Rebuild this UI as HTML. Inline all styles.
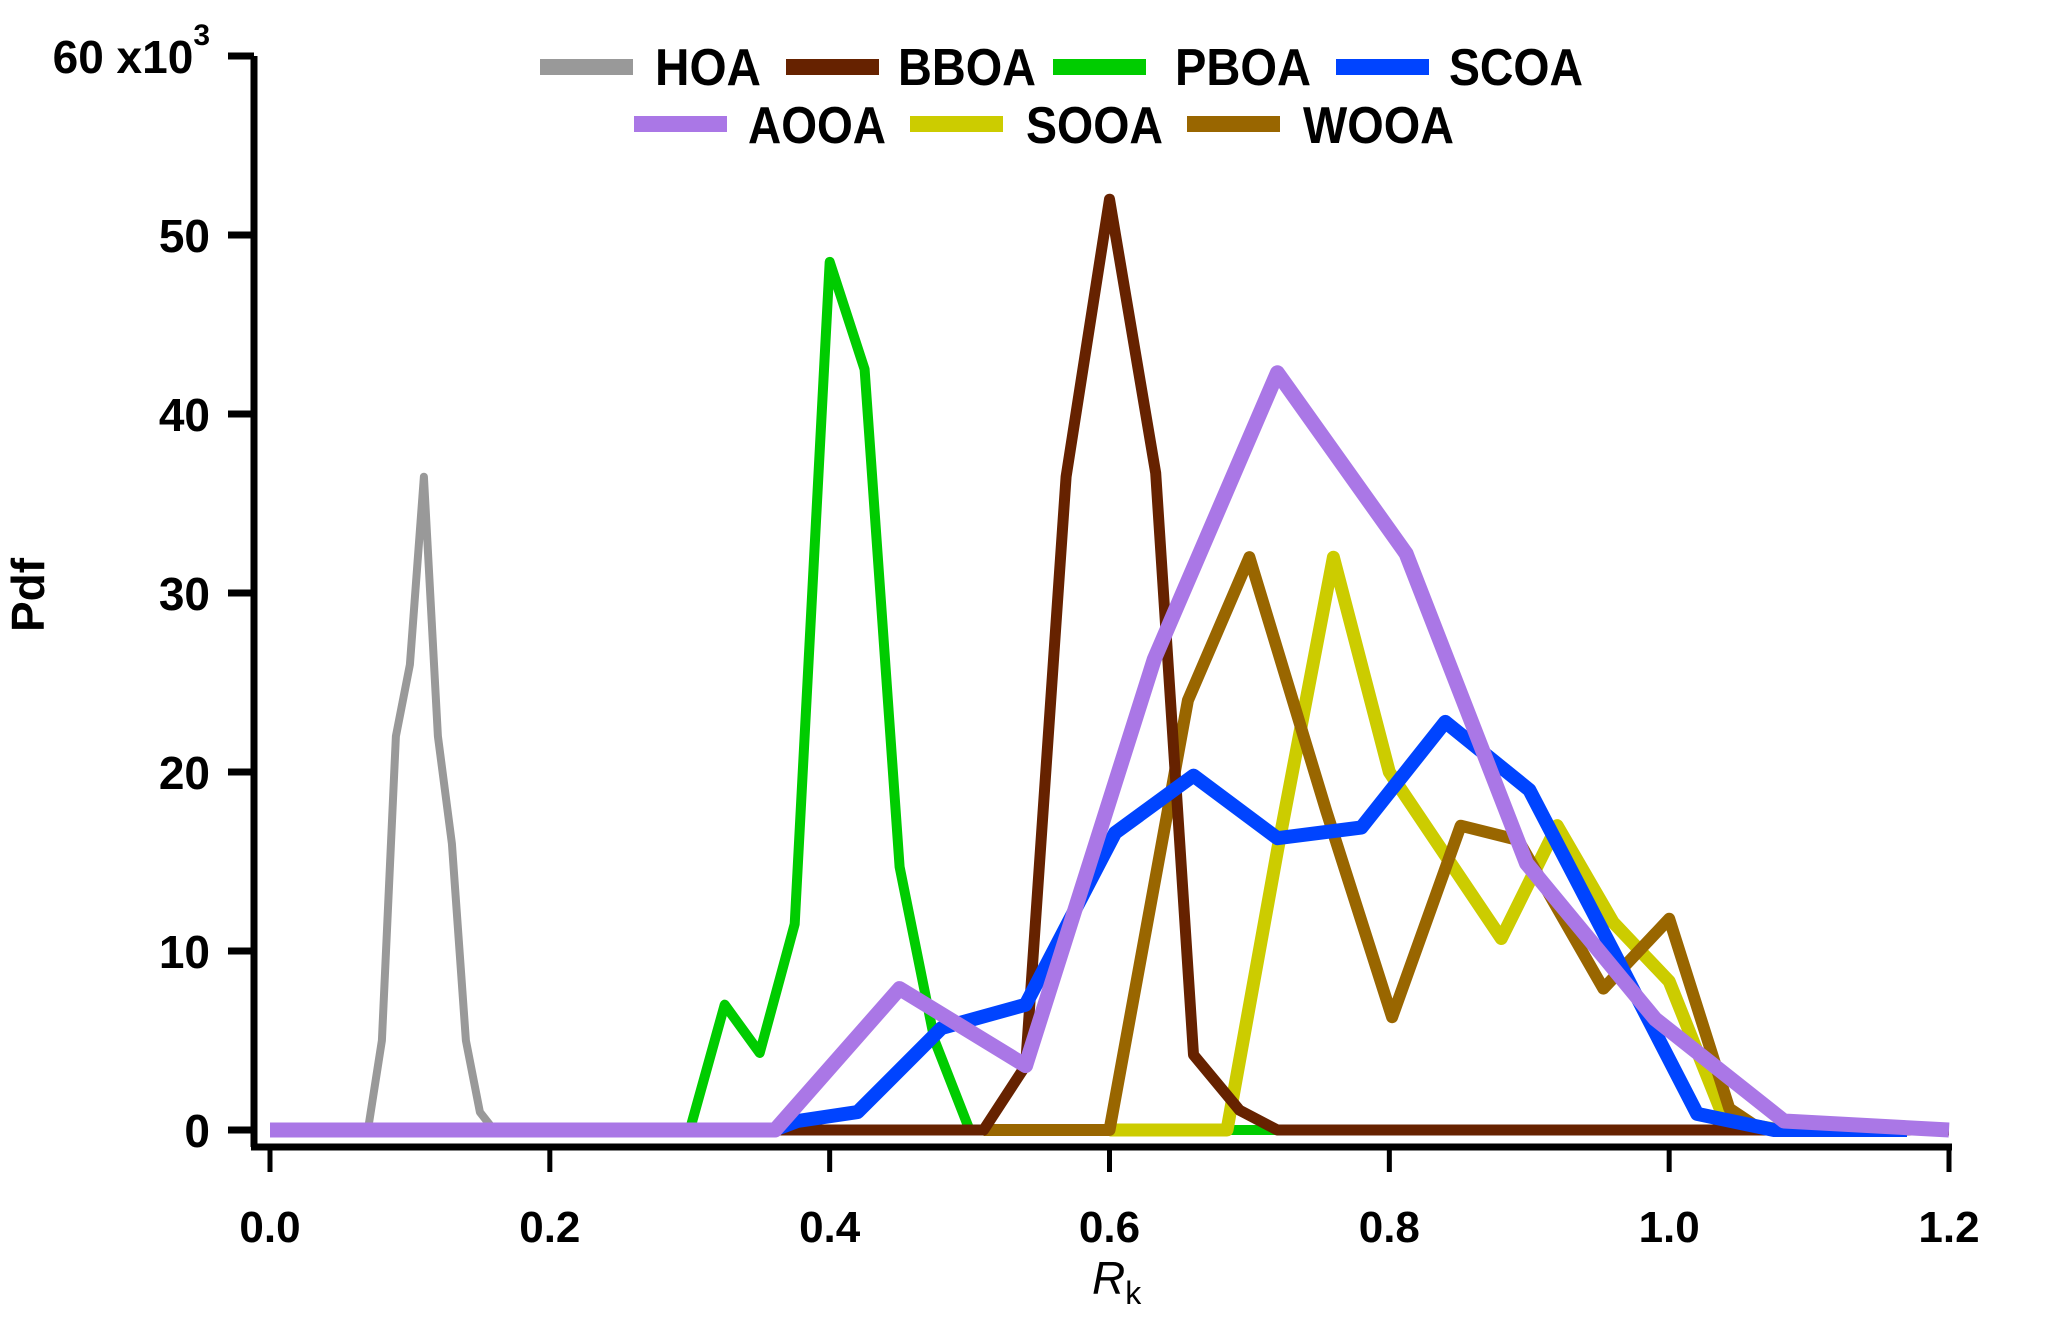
<!DOCTYPE html>
<html><head><meta charset="utf-8"><style>
html,body{margin:0;padding:0;background:#fff;}
svg text{font-family:"Liberation Sans Narrow","Liberation Sans",sans-serif;font-weight:bold;fill:#000;}
</style></head><body>
<svg id="chart" width="2067" height="1319" viewBox="0 0 2067 1319" xmlns="http://www.w3.org/2000/svg">
<g id="series"></g>
<g id="axes"></g>
<g id="legend"></g>
</svg>
<script>
const xTicks = [0.0, 0.2, 0.4, 0.6, 0.8, 1.0, 1.2];
const xTickLabels = ["0.0","0.2","0.4","0.6","0.8","1.0","1.2"];
const yTicks = [0, 10, 20, 30, 40, 50, 60];
const yTickLabels = ["0","10","20","30","40","50","60 x10"];
const hoaX = [0.0,0.07,0.08,0.09,0.10,0.11,0.12,0.13,0.14,0.15,0.16,0.36];
const hoaY = [0,0,5,22,26,36.5,22,16,5,1,0,0];
const pboaX = [0.3,0.325,0.35,0.375,0.4,0.425,0.45,0.475,0.5,0.55,0.7,0.72];
const pboaY = [0,7,4.3,11.5,48.5,42.5,14.7,5,0,0,0,0];
const sooaX = [0.6,0.684,0.72,0.76,0.8,0.88,0.92,0.96,1.0,1.04,1.08];
const sooaY = [0,0,15.6,32,20,10.7,17,11.6,8.3,0.5,0];
const wooaX = [0.51,0.6,0.656,0.7,0.755,0.802,0.851,0.892,0.953,1.0,1.043,1.066];
const wooaY = [0,0,24,32,17.8,6.3,17,16.2,7.9,11.8,1.2,0];
const bboaX = [0.36,0.51,0.54,0.569,0.6,0.633,0.66,0.693,0.72,1.2];
const bboaY = [0,0,3.6,36.5,52,36.7,4.2,1.1,0,0];
const scoaX = [0.36,0.377,0.42,0.48,0.54,0.604,0.66,0.72,0.78,0.84,0.9,0.96,1.02,1.075,1.17];
const scoaY = [0,0.5,1,5.7,7,16.6,19.8,16.3,16.9,22.8,19,10,0.9,0,0];
const aooaX = [0.0,0.361,0.45,0.54,0.632,0.72,0.812,0.898,0.99,1.082,1.2];
const aooaY = [0,0,7.9,3.6,26.3,42.3,32.2,14.9,6.2,0.5,0];

const NS="http://www.w3.org/2000/svg";
const X0=270, X1=1949, Y0=1130, Y60=56;
function sx(v){return X0+(v-0)/(1.2)*(X1-X0);}
function sy(v){return Y0-(v/60)*(Y0-Y60);}
function mk(tag,attrs,parent){const e=document.createElementNS(NS,tag);for(const k in attrs)e.setAttribute(k,attrs[k]);parent.appendChild(e);return e;}

const series=[
 {name:"hoa",label:"HOA",x:hoaX,y:hoaY,c:"#999999",w:8},
 {name:"pboa",label:"PBOA",x:pboaX,y:pboaY,c:"#00cc00",w:10},
 {name:"sooa",label:"SOOA",x:sooaX,y:sooaY,c:"#cccc00",w:13},
 {name:"wooa",label:"WOOA",x:wooaX,y:wooaY,c:"#996600",w:12},
 {name:"bboa",label:"BBOA",x:bboaX,y:bboaY,c:"#662200",w:11},
 {name:"scoa",label:"SCOA",x:scoaX,y:scoaY,c:"#0044ff",w:14},
 {name:"aooa",label:"AOOA",x:aooaX,y:aooaY,c:"#aa77e6",w:15}
];
const sg=document.getElementById('series');
series.forEach(s=>{
  const pts=s.x.map((v,i)=>sx(v).toFixed(1)+","+sy(s.y[i]).toFixed(1)).join(" ");
  const p=mk('polyline',{points:pts,fill:"none",stroke:s.c,"stroke-width":s.w,"stroke-linejoin":"round"},sg);
  
  
});

const ag=document.getElementById('axes');
let yl=mk('line',{x1:254,y1:56,x2:254,y2:1147,stroke:"#000","stroke-width":7},ag);


let xl=mk('line',{x1:251,y1:1147,x2:1952,y2:1147,stroke:"#000","stroke-width":7},ag);


yTicks.forEach((v,i)=>{
  const t=mk('line',{x1:228,y1:sy(v),x2:254,y2:sy(v),stroke:"#000","stroke-width":7},ag);
  
  
  const tx=mk('text',{x:210,y:sy(v)+17,"font-size":46,"text-anchor":"end"},ag);
  tx.textContent=yTickLabels[i];
  
  
  if(v===60){const sup=mk('tspan',{"font-size":30,dy:-28},tx);sup.textContent="3";}
});
xTicks.forEach((v,i)=>{
  const t=mk('line',{x1:sx(v),y1:1147,x2:sx(v),y2:1172,stroke:"#000","stroke-width":5},ag);
  
  
  const tx=mk('text',{x:sx(v),y:1242,"font-size":44,"text-anchor":"middle"},ag);
  tx.textContent=xTickLabels[i];
  
  
});
const xt=mk('text',{x:1092,y:1294,"font-size":46,"font-style":"italic"},ag);
xt.style.fontWeight="normal";
xt.textContent="R";
const sub=mk('tspan',{"font-size":32,dy:10,"font-style":"normal"},xt);sub.textContent="k";


const yt=mk('text',{x:0,y:0,"font-size":46,"text-anchor":"middle",transform:"translate(44,595) rotate(-90)"},ag);
yt.textContent="Pdf";



const lg=document.getElementById('legend');
const legendPos={hoa:[540,655,106,0],bboa:[786,898,138,0],pboa:[1053,1175,136,0],scoa:[1336,1449,134,0],
  aooa:[634,748,138,1],sooa:[910,1026,137,1],wooa:[1187,1303,151,1]};
series.forEach(s=>{
  const p=legendPos[s.name];const ly=p[3]?124:67;const by=p[3]?143:85;
  const g=mk('g',{},lg);
  
  
  mk('rect',{x:p[0],y:ly-8,width:93,height:16,fill:s.c},g);
  const t=mk('text',{x:p[1],y:by,"font-size":52,textLength:p[2],lengthAdjust:"spacingAndGlyphs"},g);
  t.textContent=s.label;
});
</script>
</body></html>
